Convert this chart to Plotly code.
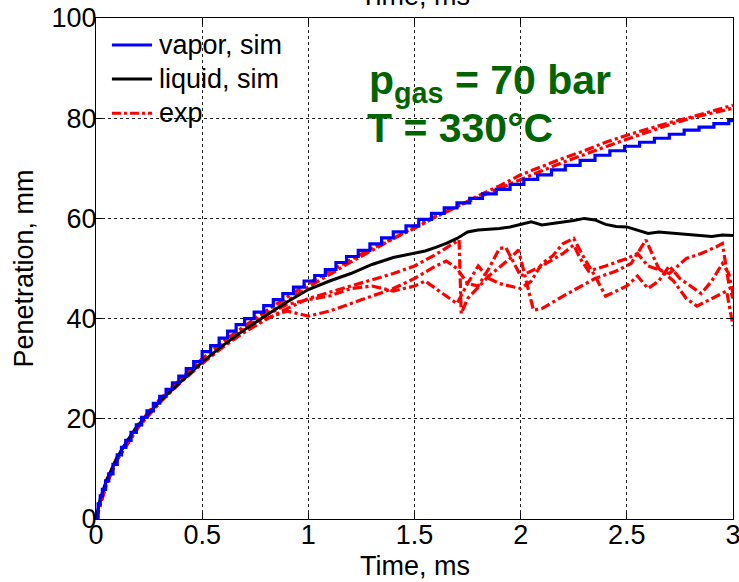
import plotly.graph_objects as go

# vapor penetration, simulation (stepped)
vapor_t = [0, 0.01, 0.02, 0.03, 0.045, 0.06, 0.08, 0.1, 0.12, 0.14, 0.165, 0.19, 0.215, 0.24,
           0.27, 0.3, 0.33, 0.36, 0.39, 0.425, 0.46, 0.5, 0.54, 0.58, 0.62, 0.66, 0.7, 0.745,
           0.79, 0.835, 0.88, 0.93, 0.98, 1.03, 1.08, 1.13, 1.18, 1.235, 1.29, 1.345, 1.4,
           1.46, 1.52, 1.58, 1.64, 1.7, 1.76, 1.82, 1.885, 1.95, 2.015, 2.08, 2.145, 2.21,
           2.28, 2.35, 2.42, 2.49, 2.56, 2.63, 2.7, 2.77, 2.84, 2.91, 2.98, 3.0]
vapor_v = [0, 3.0, 4.6, 5.9, 7.6, 9.0, 10.9, 12.8, 14.3, 15.7, 17.3, 18.8, 20.3, 21.6,
           23.1, 24.5, 25.9, 27.2, 28.5, 30.0, 31.4, 33.4, 34.6, 36.1, 37.5, 38.8, 40.0, 41.3,
           42.6, 43.8, 45.0, 46.3, 47.5, 48.6, 49.8, 51.2, 52.4, 53.6, 54.9, 56.1, 57.3,
           58.5, 59.8, 61.0, 62.1, 63.1, 64.0, 64.9, 65.8, 66.8, 67.8, 68.7, 69.7, 70.6,
           71.6, 72.6, 73.5, 74.4, 75.2, 76.0, 76.8, 77.6, 78.2, 78.9, 79.5, 79.6]

# liquid penetration, simulation
liquid_t = [0, 0.02, 0.05, 0.1, 0.15, 0.2, 0.3, 0.4, 0.5, 0.6, 0.7, 0.8, 0.9, 1.0, 1.1, 1.2,
            1.3, 1.4, 1.5, 1.55, 1.6, 1.65, 1.7, 1.75, 1.8, 1.85, 1.9, 1.95, 2.0, 2.05, 2.1,
            2.15, 2.2, 2.25, 2.3, 2.35, 2.4, 2.45, 2.5, 2.55, 2.6, 2.65, 2.7, 2.75, 2.8, 2.85,
            2.9, 2.95, 3.0]
liquid_v = [0, 4.0, 7.8, 12.3, 15.8, 18.8, 23.5, 27.5, 31.3, 34.7, 37.8, 40.6, 43.3, 45.8,
            47.5, 49.0, 50.8, 52.2, 53.0, 53.5, 54.2, 55.0, 56.0, 57.3, 57.7, 57.8, 58.0, 58.3,
            58.8, 59.3, 58.7, 59.0, 59.2, 59.6, 60.0, 59.7, 58.8, 58.4, 58.3, 57.6, 57.0,
            57.3, 57.1, 57.0, 56.8, 56.6, 56.4, 56.7, 56.6]

# experimental runs
exp_a_t = [0, 0.05, 0.1, 0.2, 0.3, 0.4, 0.5, 0.6, 0.7, 0.8, 0.9, 1.0, 1.1, 1.2, 1.3, 1.4, 1.5,
           1.6, 1.7, 1.8, 1.9, 2.0, 2.1, 2.2, 2.3, 2.4, 2.5, 2.6, 2.7, 2.8, 2.9, 3.0]
exp_a_v = [0, 7.5, 12.3, 18.8, 23.8, 28.0, 32.0, 35.5, 38.5, 41.5, 44.3, 47.0, 49.5, 51.8,
           54.0, 56.0, 58.0, 60.3, 62.3, 64.5, 66.5, 68.7, 70.4, 72.0, 73.5, 75.2, 76.6, 77.9,
           79.1, 80.2, 81.4, 82.6]

exp_b_t = [0, 0.05, 0.1, 0.2, 0.3, 0.4, 0.5, 0.6, 0.7, 0.8, 0.9, 1.0, 1.1, 1.2, 1.3, 1.4, 1.5,
           1.6, 1.7, 1.8, 1.9, 2.0, 2.1, 2.2, 2.3, 2.4, 2.5, 2.6, 2.7, 2.8, 2.9, 3.0]
exp_b_v = [0, 7.0, 11.8, 18.3, 23.3, 27.5, 31.3, 34.8, 38.0, 40.8, 43.6, 46.3, 48.8, 51.3,
           53.6, 56.0, 58.3, 60.4, 62.4, 64.2, 66.0, 67.8, 69.5, 71.2, 72.8, 74.3, 75.8, 77.3,
           78.7, 80.0, 81.0, 82.0]

exp_c_t = [0, 0.05, 0.1, 0.2, 0.3, 0.4, 0.5, 0.6, 0.7, 0.8, 0.9, 1.0, 1.2, 1.4, 1.5, 1.6, 1.71,
           1.72, 1.75, 1.85, 1.95, 1.99, 2.06, 2.1, 2.2, 2.28, 2.35, 2.45, 2.52, 2.59, 2.65,
           2.72, 2.78, 2.83, 2.9, 2.97, 3.0]
exp_c_v = [0, 7.2, 12.0, 18.5, 23.2, 27.3, 31.0, 34.4, 37.3, 39.8, 42.0, 44.0, 46.5, 49.0,
           50.5, 52.8, 55.7, 41.0, 44.0, 48.5, 52.0, 53.7, 41.7, 42.0, 44.5, 46.4, 48.0, 49.5,
           51.0, 55.7, 50.0, 47.5, 44.0, 42.5, 44.0, 45.5, 38.5]

exp_d_t = [0, 0.05, 0.1, 0.2, 0.3, 0.4, 0.5, 0.6, 0.7, 0.8, 0.9, 1.0, 1.1, 1.2, 1.3, 1.4, 1.5,
           1.6, 1.65, 1.7, 1.75, 1.8, 1.85, 1.9, 1.93, 1.97, 2.0, 2.1, 2.2, 2.25, 2.28, 2.32,
           2.4, 2.5, 2.55, 2.6, 2.7, 2.78, 2.85, 2.92, 2.95, 2.98, 3.0]
exp_d_v = [0, 7.4, 12.2, 18.6, 23.5, 27.5, 31.2, 34.5, 37.5, 40.0, 41.5, 40.5, 41.5, 43.0,
           44.5, 46.0, 48.0, 50.5, 51.5, 50.0, 47.0, 46.5, 50.0, 54.0, 54.2, 51.0, 48.5, 50.5,
           53.0, 54.7, 52.0, 49.5, 50.5, 52.0, 53.0, 50.5, 49.0, 52.0, 53.0, 54.3, 55.0, 47.0,
           44.0]

exp_e_t = [0, 0.05, 0.1, 0.2, 0.3, 0.4, 0.5, 0.6, 0.7, 0.8, 0.9, 1.0, 1.1, 1.2, 1.3, 1.4, 1.5,
           1.55, 1.6, 1.65, 1.7, 1.75, 1.8, 1.85, 1.9, 2.0, 2.05, 2.1, 2.15, 2.2, 2.25, 2.3,
           2.35, 2.4, 2.45, 2.5, 2.55, 2.6, 2.65, 2.7, 2.75, 2.8, 2.85, 2.9, 2.95, 2.98, 3.0]
exp_e_v = [0, 7.6, 12.4, 19.0, 23.9, 28.0, 31.8, 35.0, 38.0, 40.7, 42.8, 43.8, 44.5, 46.0,
           46.5, 45.5, 46.5, 47.5, 46.0, 44.5, 43.0, 47.0, 50.5, 48.0, 47.0, 46.0, 47.5, 51.0,
           52.5, 55.0, 56.0, 52.0, 48.5, 44.5, 45.5, 46.5, 48.5, 46.0, 47.5, 50.5, 48.0, 46.5,
           45.0, 47.5, 51.0, 49.0, 45.0]

exp_runs = [(exp_a_t, exp_a_v), (exp_b_t, exp_b_v), (exp_c_t, exp_c_v),
            (exp_d_t, exp_d_v), (exp_e_t, exp_e_v)]

legend_labels = ["vapor, sim", "liquid, sim", "exp"]
legend_styles = [dict(color="blue", width=3), dict(color="black", width=3),
                 dict(color="red", width=3, dash="dashdot")]

font = "Liberation Sans, Arial, sans-serif"
green = "#006400"

fig = go.Figure()

for t, v in exp_runs:
    fig.add_trace(go.Scatter(
        x=t, y=v, mode="lines", name="exp",
        line=dict(color="red", width=3.2, dash="dashdot"), showlegend=False))

fig.add_trace(go.Scatter(
    x=liquid_t, y=liquid_v, mode="lines", name="liquid, sim",
    line=dict(color="black", width=3), showlegend=False))

fig.add_trace(go.Scatter(
    x=vapor_t, y=vapor_v, mode="lines", name="vapor, sim",
    line=dict(color="blue", width=3.2, shape="hv"), showlegend=False))

# legend drawn by hand so the rows sit as tight as in the original
for i, (lab, sty) in enumerate(zip(legend_labels, legend_styles)):
    yp = 0.946 - i * 0.068
    fig.add_shape(type="line", xref="paper", yref="paper",
                  x0=0.025, x1=0.088, y0=yp, y1=yp, line=sty)
    fig.add_annotation(x=0.096, y=yp, xref="paper", yref="paper", xanchor="left",
                       yanchor="middle", text=lab, showarrow=False,
                       font=dict(family=font, size=27, color="black"))

fig.add_annotation(
    x=0.425, y=0.870, xref="paper", yref="paper", xanchor="left", yanchor="middle",
    text="<b>p<sub>gas</sub> = 70 bar</b>", showarrow=False,
    font=dict(family=font, size=41, color=green))
fig.add_annotation(
    x=0.422, y=0.780, xref="paper", yref="paper", xanchor="left", yanchor="middle",
    text="<b>T = 330°C</b>", showarrow=False,
    font=dict(family=font, size=41, color=green))

# axis titles (the top one is cut by the page edge, as in the original)
fig.add_annotation(
    x=0.5, y=1.0, xref="paper", yref="paper", yshift=5, xanchor="center", yanchor="bottom",
    text="Time, ms", showarrow=False, font=dict(family=font, size=27, color="black"))
fig.add_annotation(
    x=0.5, y=0.0, xref="paper", yref="paper", yshift=-47, xanchor="center", yanchor="middle",
    text="Time, ms", showarrow=False, font=dict(family=font, size=27, color="black"))
fig.add_annotation(
    x=0.0, y=0.5, xref="paper", yref="paper", xshift=-73, xanchor="center", yanchor="middle",
    text="Penetration, mm", textangle=-90, showarrow=False,
    font=dict(family=font, size=27, color="black"))

axis_common = dict(
    showline=True, linecolor="black", linewidth=1, mirror="ticks",
    ticks="inside", ticklen=6, tickcolor="black",
    showgrid=True, gridcolor="#222", gridwidth=1, griddash="dot",
    zeroline=False, automargin=False, ticklabeloverflow="allow",
    tickfont=dict(family=font, size=27, color="black"),
)

fig.update_xaxes(range=[0, 3], dtick=0.5, ticklabelstandoff=-8, **axis_common)
fig.update_yaxes(range=[0, 100], dtick=20, ticklabelstandoff=-7, **axis_common)

fig.update_layout(
    width=739, height=582,
    margin=dict(l=96, r=6, t=18, b=63),
    paper_bgcolor="white", plot_bgcolor="white",
    font=dict(family=font, size=27, color="black"),
    showlegend=False,
)

# drop the default body margin so the figure sits at the page corner
fig.write_html("out.html", config={"displayModeBar": False},
               post_script="document.body.style.margin='0';")
